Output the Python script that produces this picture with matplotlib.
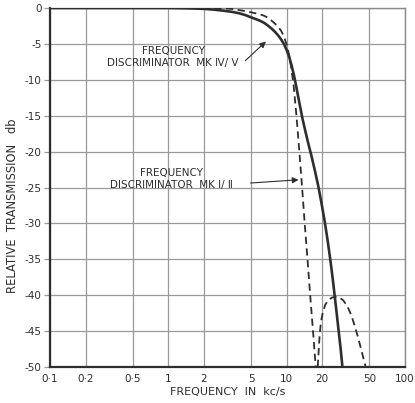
import numpy as np
import matplotlib
matplotlib.use("Agg")
import matplotlib.pyplot as plt

# values (frequency in kc/s, transmission in db)
mk45_freq = [0.1, 1.0, 1.5, 2.0, 2.5, 3.0, 3.5, 4.0, 4.5, 5.0, 5.5, 6.0, 6.5, 7.0, 7.5,
             8.0, 8.5, 9.0, 9.5, 10.0, 10.5, 11.0, 11.5, 12.0, 12.8, 13.6, 14.5, 15.3,
             16.2, 17.4, 18.6, 19.8, 21.0, 22.2, 23.4, 24.5, 25.5, 26.5, 27.5, 28.6, 29.6]
mk45_db = [0, 0, -0.05, -0.12, -0.25, -0.4, -0.55, -0.75, -1.0, -1.3, -1.55, -1.8, -2.1,
           -2.5, -2.9, -3.35, -3.85, -4.4, -5.05, -5.85, -6.8, -8.0, -9.3, -10.8, -13.2,
           -15.4, -17.4, -19.0, -20.6, -22.8, -25, -27.4, -29.8, -32.4, -35.1, -37.7,
           -40.2, -42.6, -45, -47.5, -50]

mk12_freq = [0.1, 2.5, 3.0, 3.5, 4.0, 4.5, 5.0, 5.5, 6.0, 6.5, 7.0, 7.5, 8.0, 8.5, 9.0,
             9.5, 10.0, 10.5, 11.0, 11.5, 12.1, 12.8, 13.5, 14.2, 15.0, 15.8, 16.7, 17.6]
mk12_db = [0, 0, -0.05, -0.15, -0.3, -0.45, -0.6, -0.75, -0.9, -1.1, -1.4, -1.8, -2.2,
           -2.65, -3.2, -4.0, -5.1, -6.6, -8.6, -11.1, -15, -20, -25, -30, -35, -40, -45, -50]

hump_freq = [18.3, 18.6, 19.0, 19.5, 20.2, 21.2, 22.5, 24.0, 25.8, 27.8, 30.0, 32.5,
             35.0, 37.5, 40.0, 42.7, 46.5]
hump_db = [-50, -48.0, -45.5, -43.7, -42.4, -41.3, -40.7, -40.35, -40.2, -40.3, -40.7,
           -41.5, -42.7, -44.2, -45.8, -47.6, -50]

xticks = [0.1, 0.2, 0.5, 1, 2, 5, 10, 20, 50, 100]
xlabels = ["0·1", "0·2", "0·5", "1", "2", "5", "10", "20", "50", "100"]
yticks = list(range(0, -55, -5))

ink = "#2e2e2e"
plt.rcParams['font.family'] = ['DejaVu Sans']

fig = plt.figure(figsize=(4.15, 4.03), dpi=100)
ax = fig.add_axes([50 / 415, 1 - 367 / 403, 355 / 415, 359 / 403])

ax.set_xscale("log")
ax.set_xlim(0.1, 100)
ax.set_ylim(-50, 0)

ax.set_xticks(xticks)
ax.set_xticklabels(xlabels)
ax.xaxis.set_minor_locator(matplotlib.ticker.NullLocator())
ax.set_yticks(yticks)
ax.set_yticklabels([str(v) for v in yticks])

ax.grid(True, color="#9a9a9a", lw=0.9)
ax.tick_params(axis="x", length=0, pad=5, labelsize=7.5, colors=ink)
ax.tick_params(axis="y", length=4, width=0.9, color="#9a9a9a", pad=2, labelsize=7.5, labelcolor=ink)

for side in ("left", "bottom"):
    ax.spines[side].set_color(ink)
    ax.spines[side].set_linewidth(1.6)
for side in ("top", "right"):
    ax.spines[side].set_color("#8a8a8a")
    ax.spines[side].set_linewidth(1.0)

ax.plot(mk45_freq, mk45_db, color=ink, lw=1.9, solid_joinstyle="round", zorder=4)
ax.plot(mk12_freq, mk12_db, color=ink, lw=1.3, linestyle=(0, (4, 2.5)), zorder=3)
ax.plot(hump_freq, hump_db, color=ink, lw=1.3, linestyle=(0, (4, 2.5)), zorder=3)

ax.set_xlabel("FREQUENCY  IN  kc/s", fontsize=8, color=ink, labelpad=2)
ax.set_ylabel("RELATIVE  TRANSMISSION   db", fontsize=8.3, color=ink)
ax.yaxis.set_label_coords(-0.088, 0.448)

ax.text(1.1, -6.8, "FREQUENCY\nDISCRIMINATOR  MK Ⅳ/ Ⅴ", ha="center", va="center",
        multialignment="center", fontsize=7.5, color=ink, linespacing=1.2)
ax.annotate("", xy=(6.95, -4.4), xytext=(4.3, -7.6),
            arrowprops=dict(arrowstyle="-|>", color=ink, lw=0.8, mutation_scale=9))

ax.text(1.06, -23.8, "FREQUENCY\nDISCRIMINATOR  MK Ⅰ/ Ⅱ", ha="center", va="center",
        multialignment="center", fontsize=7.5, color=ink, linespacing=1.2)
ax.annotate("", xy=(13.3, -23.9), xytext=(4.7, -24.4),
            arrowprops=dict(arrowstyle="-|>", color=ink, lw=0.8, mutation_scale=9))

fig.savefig("out.png", dpi=100, facecolor="white")
